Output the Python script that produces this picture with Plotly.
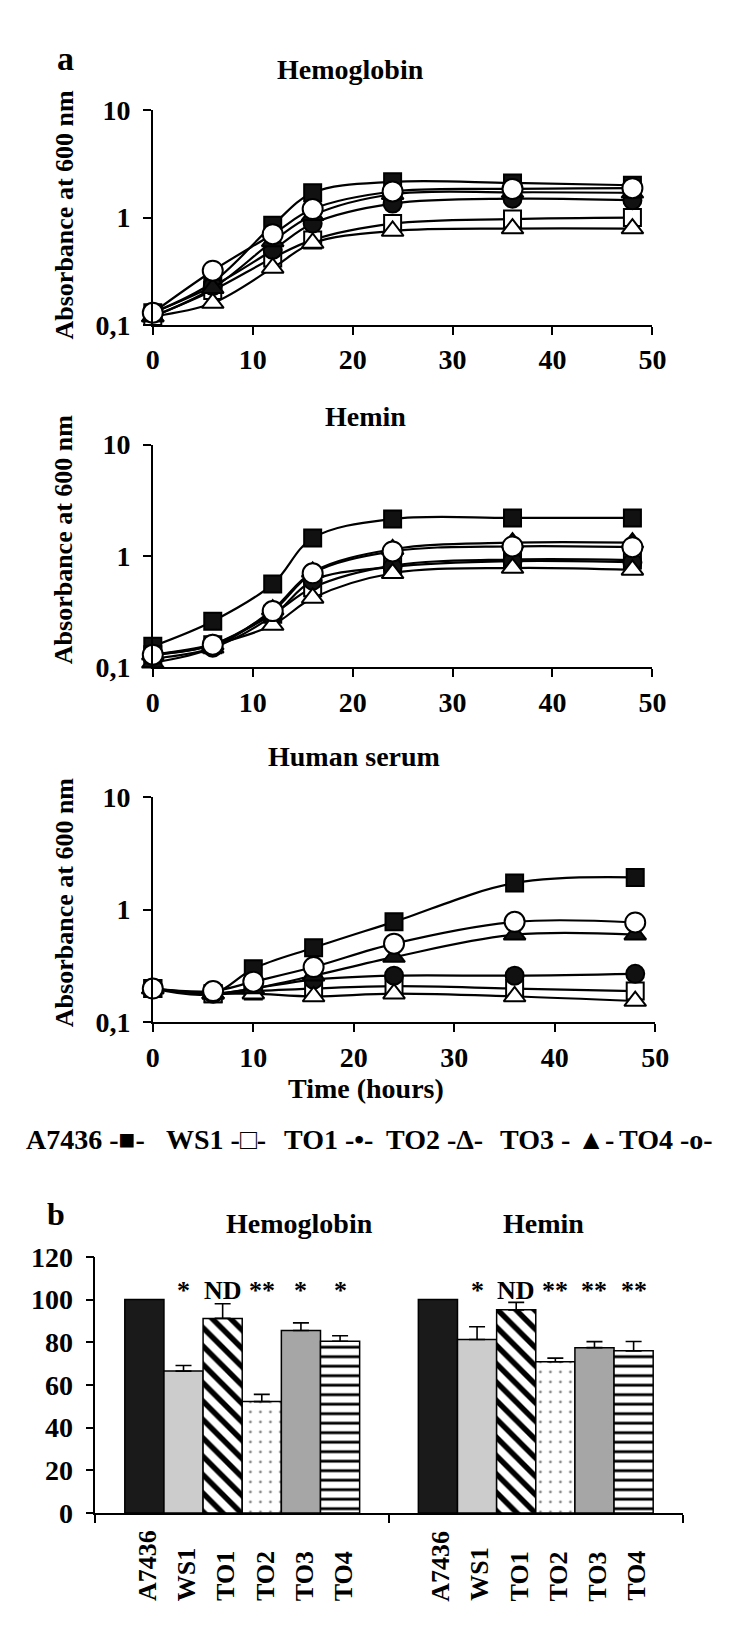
import plotly.graph_objects as go

W, H = 750, 1632
def px(x): return x / W
def py(y): return 1 - y / H

FONT = "Liberation Serif, Times New Roman, serif"

# ---------------- data ----------------
strains = ["A7436", "WS1", "TO1", "TO2", "TO3", "TO4"]
time_heme = [0, 6, 12, 16, 24, 36, 48]
time_serum = [0, 6, 10, 16, 24, 36, 48]

# Absorbance at 600 nm, one list per strain (order of `strains`)
hemoglobin_od = [
    [0.13, 0.25, 0.85, 1.70, 2.15, 2.10, 2.00],
    [0.12, 0.21, 0.42, 0.62, 0.88, 0.97, 1.00],
    [0.13, 0.23, 0.50, 0.88, 1.35, 1.50, 1.45],
    [0.12, 0.16, 0.34, 0.58, 0.75, 0.79, 0.79],
    [0.12, 0.22, 0.60, 1.05, 1.65, 1.72, 1.70],
    [0.13, 0.32, 0.70, 1.20, 1.75, 1.85, 1.88],
]
hemin_od = [
    [0.155, 0.26, 0.56, 1.45, 2.15, 2.20, 2.20],
    [0.13, 0.16, 0.30, 0.52, 0.82, 0.93, 0.92],
    [0.12, 0.15, 0.29, 0.60, 0.80, 0.90, 0.88],
    [0.13, 0.16, 0.24, 0.42, 0.70, 0.78, 0.75],
    [0.11, 0.15, 0.33, 0.72, 1.15, 1.32, 1.32],
    [0.13, 0.16, 0.32, 0.70, 1.10, 1.22, 1.20],
]
serum_od = [
    [0.20, 0.18, 0.30, 0.46, 0.78, 1.72, 1.93],
    [0.20, 0.18, 0.19, 0.20, 0.21, 0.20, 0.19],
    [0.20, 0.18, 0.20, 0.24, 0.26, 0.26, 0.27],
    [0.20, 0.18, 0.18, 0.17, 0.18, 0.17, 0.155],
    [0.20, 0.18, 0.20, 0.26, 0.38, 0.60, 0.60],
    [0.20, 0.19, 0.23, 0.31, 0.50, 0.78, 0.77],
]

# Panel b: relative growth (%)
groups = ["Hemoglobin", "Hemin"]
hemo_pct = [100, 66.5, 91.2, 52.2, 85.5, 80.5]
hemo_err = [0, 2.6, 6.9, 3.4, 3.6, 2.6]
hemin_pct = [100, 81.3, 95.2, 70.9, 77.5, 76.0]
hemin_err = [0, 6.0, 3.5, 1.7, 2.8, 4.4]
hemo_sig = ["", "*", "ND", "**", "*", "*"]
hemin_sig = ["", "*", "ND", "**", "**", "**"]

panel_titles = ["Hemoglobin", "Hemin", "Human serum"]
y_ticks = [0.1, 1, 10]
y_ticktext = ["0,1", "1", "10"]
legend_items = ["A7436 -■-", "WS1 -□-", "TO1 -•-", "TO2 -Δ-", "TO3 - ▲-", "TO4 -o-"]

# ---------------- styles ----------------
symbols = ["square", "square", "circle", "triangle-up", "triangle-up", "circle"]
fills = ["#111111", "white", "#111111", "white", "#111111", "white"]
msizes = [17, 17, 18, 19, 19, 20]

fig = go.Figure()

panels = [
    (hemoglobin_od, time_heme, "x", "y"),
    (hemin_od, time_heme, "x2", "y2"),
    (serum_od, time_serum, "x3", "y3"),
]
for data, tt, xa, ya in panels:
    for i, s in enumerate(strains):
        fig.add_trace(go.Scatter(
            x=tt, y=data[i], xaxis=xa, yaxis=ya, name=s, showlegend=False,
            mode="lines+markers",
            line=dict(color="black", width=2.2, shape="spline", smoothing=1.0),
            marker=dict(symbol=symbols[i], size=msizes[i], color=fills[i],
                        line=dict(color="black", width=2)),
            cliponaxis=False,
        ))

# bar chart
bar_fill = ["#1a1a1a", "#cccccc", "white", "white", "#a6a6a6", "white"]
patterns = [
    None,
    None,
    dict(shape="\\", fgcolor="black", bgcolor="white", size=13, solidity=0.42, fillmode="replace"),
    dict(shape=".", fgcolor="#8a8a8a", bgcolor="white", size=10, solidity=0.06, fillmode="replace"),
    None,
    dict(shape="-", fgcolor="black", bgcolor="white", size=9.5, solidity=0.3, fillmode="replace"),
]
group_x = [0.5, 1.5]
for i, s in enumerate(strains):
    mk = dict(color=bar_fill[i], line=dict(color="black", width=1.5))
    if patterns[i] is not None:
        mk["pattern"] = patterns[i]
    errs = [hemo_err[i], hemin_err[i]]
    tr = go.Bar(x=group_x, y=[hemo_pct[i], hemin_pct[i]], xaxis="x4", yaxis="y4",
                name=s, showlegend=False, marker=mk)
    if any(e > 0 for e in errs):
        tr.error_y = dict(type="data", array=errs, arrayminus=[0, 0], symmetric=False,
                          color="black", thickness=1.6, width=8)
    fig.add_trace(tr)

TICKFONT = dict(family=FONT, size=28, color="black", weight="bold")
axis_common = dict(showline=True, linecolor="black", linewidth=1.6, ticks="outside",
                   ticklen=8, tickwidth=1.5, tickcolor="black", showgrid=False, zeroline=False,
                   tickfont=TICKFONT)

xdoms = [[px(150), px(664)], [px(150), px(664)], [px(150), px(667)]]
ydoms = [[py(316), py(97)], [py(665), py(438)], [py(1027), py(797)]]
names = [("xaxis", "yaxis", "y", "x"), ("xaxis2", "yaxis2", "y2", "x2"), ("xaxis3", "yaxis3", "y3", "x3")]
layout_axes = {}
for k, (xn, yn, yref, xref) in enumerate(names):
    layout_axes[xn] = dict(axis_common, domain=xdoms[k], anchor=yref, range=[0, 50],
                           tickvals=[0, 10, 20, 30, 40, 50], ticklabelstandoff=1)
    layout_axes[yn] = dict(axis_common, domain=ydoms[k], anchor=xref, type="log", range=[-1, 1],
                           tickvals=y_ticks, ticktext=y_ticktext, ticklabelstandoff=7)

layout_axes["xaxis4"] = dict(axis_common, domain=[px(91), px(695)], anchor="y4", range=[0, 2],
                             tickvals=[0, 1, 2], showticklabels=False)
layout_axes["yaxis4"] = dict(axis_common, domain=[py(1527), py(1266)], anchor="x4", range=[0, 120],
                             tickvals=[0, 20, 40, 60, 80, 100, 120], ticklabelstandoff=7)

annotations = []
def txt(x, y, t, size=28, xanchor="center", yanchor="middle", **kw):
    d = dict(x=px(x), y=py(y), xref="paper", yref="paper", text=t, showarrow=False,
             xanchor=xanchor, yanchor=yanchor,
             font=dict(family=FONT, size=size, color="black", weight="bold"))
    d.update(kw)
    annotations.append(d)

# panel letters and titles
txt(60, 44, "a", size=34)
txt(50, 1222, "b", size=32)
title_pos = [(353, 56), (369, 409), (357, 756)]
for (x, y), t in zip(title_pos, panel_titles):
    txt(x, y, t, size=28)
for yc in [203, 534, 904]:
    txt(59, yc, "Absorbance at 600 nm", size=26, textangle=-90)
txt(369, 1094, "Time (hours)", size=28)

legend_x = [18, 162, 283, 388, 505, 628]
for x, t in zip(legend_x, legend_items):
    txt(x, 1146, t, size=28, xanchor="left")

# bar chart group titles
txt(301, 1232, groups[0], size=28)
txt(552, 1232, groups[1], size=28)

# bar labels and significance marks
bw = 0.8 / len(strains)
for g, (gx, sig) in enumerate(zip(group_x, [hemo_sig, hemin_sig])):
    for i, s in enumerate(strains):
        bx = gx + (i - (len(strains) - 1) / 2) * bw
        annotations.append(dict(x=bx, y=py(1619), xref="x4", yref="paper", text=s,
                                showarrow=False, textangle=-90, xanchor="center", yanchor="bottom",
                                xshift=3,
                                font=dict(family=FONT, size=26, color="black", weight="bold")))
        if sig[i]:
            annotations.append(dict(x=bx, y=104.5, xref="x4", yref="y4", text=sig[i],
                                    showarrow=False, xanchor="center", yanchor="middle",
                                    font=dict(family=FONT, size=26, color="black", weight="bold")))

fig.update_layout(
    width=W, height=H, autosize=False,
    margin=dict(l=0, r=0, t=0, b=0),
    paper_bgcolor="white", plot_bgcolor="white",
    barmode="group", bargap=0.2, bargroupgap=0,
    font=dict(family=FONT, color="black"),
    annotations=annotations,
    **layout_axes,
)

fig.write_html("out.html", config={"displayModeBar": False},
               post_script="document.body.style.margin='0';document.body.style.overflow='hidden';")
